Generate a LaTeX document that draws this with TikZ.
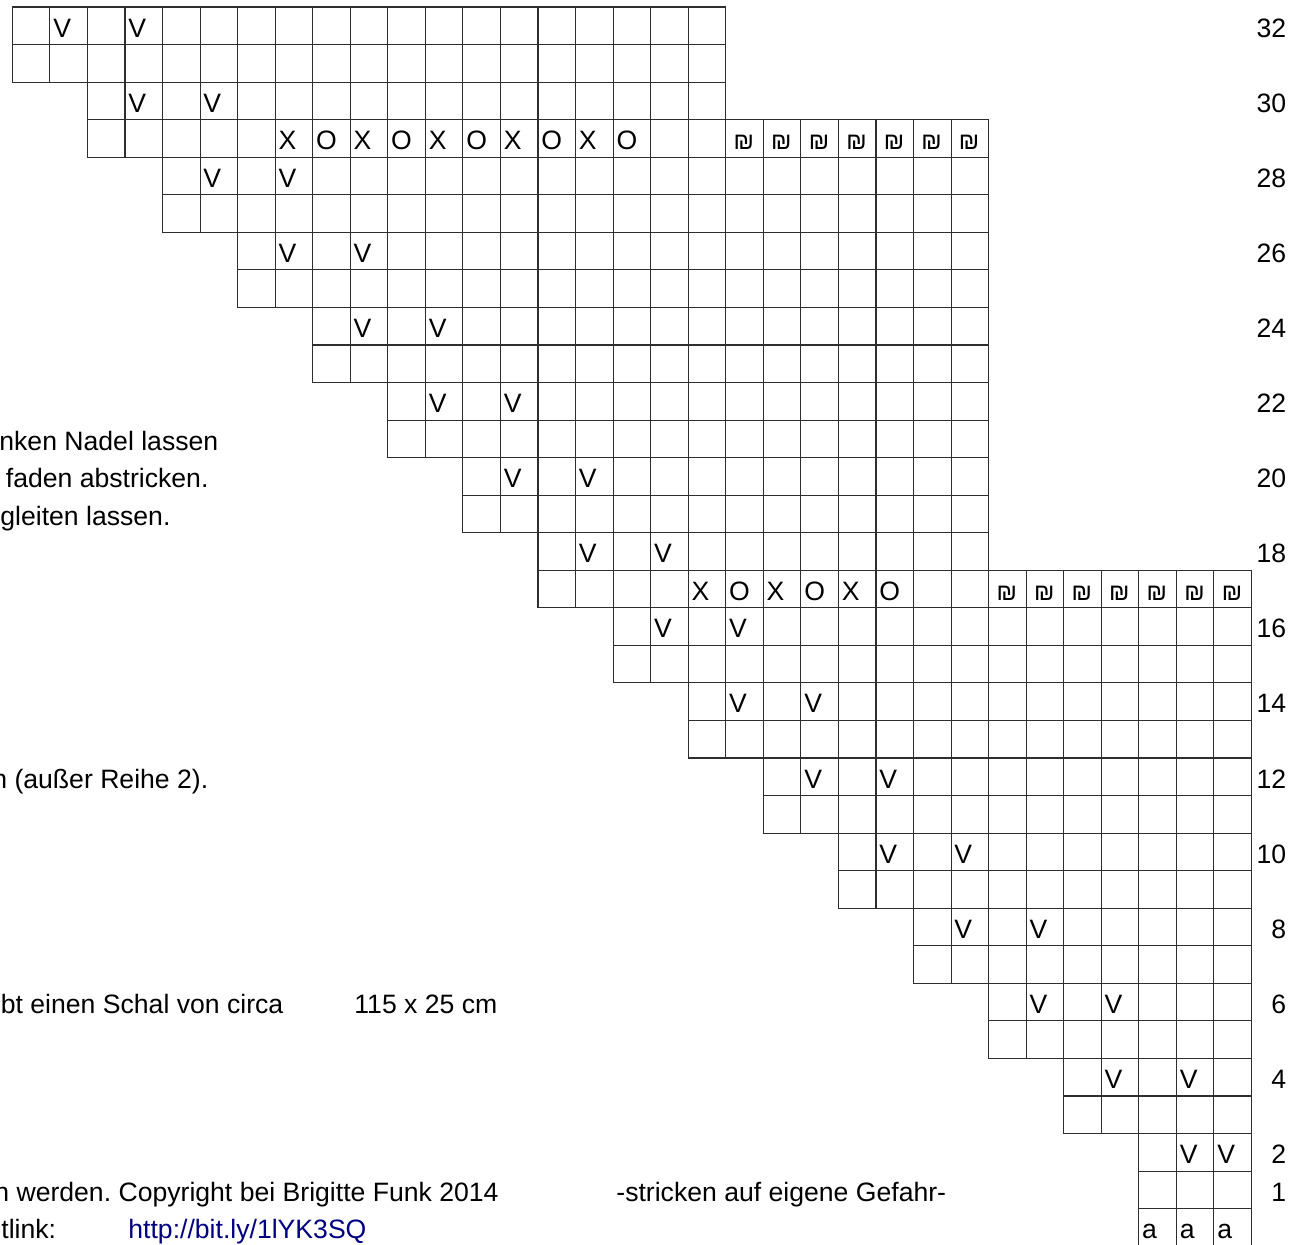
\documentclass[tikz,border=0pt]{standalone}
\usepackage{fontspec}
\setmainfont{Liberation Sans}
\usetikzlibrary{positioning,calc}
\definecolor{linkblue}{RGB}{0,0,128}
\frenchspacing

\tikzset{
  cell/.style={draw=black!82, line width=0.55pt},
  stitch/.style={anchor=base west, inner sep=0pt, font=\fontsize{13.3}{15}\selectfont},
  shekel/.style={anchor=base west, inner sep=0pt, font=\fontsize{12}{14}\selectfont},
  rowno/.style={anchor=base east, inner sep=0pt, font=\fontsize{13.3}{15}\selectfont},
  note/.style={anchor=base west, inner sep=0pt, font=\fontsize{13.3}{15}\selectfont},
}
% column c starts at 12.3 + c*37.55, row i (0 = row 32) starts at 7 + i*37.55
\newcommand{\colx}[1]{12.3+#1*37.55}
\newcommand{\rowy}[1]{7+#1*37.55}

\begin{document}
\begin{tikzpicture}[x=0.5pt,y=-0.5pt]
  \useasboundingbox (0,0) rectangle (1307,1244);

  % the stepped grid
  \foreach \i in {0,...,32} {
    \pgfmathtruncatemacro\s{\i<32 ? 2*int(\i/2) : 30}
    \pgfmathtruncatemacro\e{\i<3 ? 18 : (\i<15 ? 25 : 32)}
    \foreach \c in {\s,...,\e}
      \draw[cell] ({\colx{\c}},{\rowy{\i}}) rectangle ++(37.55,37.55);
  }

  % slipped stitches
  \foreach \r [evaluate=\r as \i using int(32-\r),
               evaluate=\r as \ca using int(33-\r),
               evaluate=\r as \cb using int(35-\r)] in {32,30,...,4} {
    \node[stitch] (v-\r-a) at ({\colx{\ca}+3},{\rowy{\i}+30}) {V};
    \node[stitch] (v-\r-b) at ({\colx{\cb}+3},{\rowy{\i}+30}) {V};
  }
  \node[stitch] (v-2-a) at ({\colx{31}+3},{\rowy{30}+30}) {V};
  \node[stitch] (v-2-b) at ({\colx{32}+3},{\rowy{30}+30}) {V};

  % row 29
  \foreach \c in {7,9,...,15}
    \node[stitch] (x-29-\c) at ({\colx{\c}+3},{\rowy{3}+30}) {X};
  \foreach \c in {8,10,...,16}
    \node[stitch] (o-29-\c) at ({\colx{\c}+3},{\rowy{3}+30}) {O};
  \foreach \c in {19,...,25}
    \node[shekel] (s-29-\c) at ({\colx{\c}+7.5},{\rowy{3}+30}) {₪};

  % row 17
  \foreach \c in {18,20,22}
    \node[stitch] (x-17-\c) at ({\colx{\c}+3},{\rowy{15}+30}) {X};
  \foreach \c in {19,21,23}
    \node[stitch] (o-17-\c) at ({\colx{\c}+3},{\rowy{15}+30}) {O};
  \foreach \c in {26,...,32}
    \node[shekel] (s-17-\c) at ({\colx{\c}+7.5},{\rowy{15}+30}) {₪};

  % bottom row
  \foreach \c in {30,31,32}
    \node[stitch] (a-\c) at ({\colx{\c}+3},{\rowy{32}+30}) {a};

  % row numbers
  \foreach \r [evaluate=\r as \i using int(32-\r)] in {32,30,...,2,1}
    \node[rowno] (nr-\r) at (1286.5,{\rowy{\i}+30}) {\r};

  % notes on the left
  \node[note] (n-nadel) at (-1,{\rowy{11}+30}) {nken Nadel lassen};
  \node[note] (n-faden) at (5.5,{\rowy{12}+30}) {faden abstricken.};
  \node[note] (n-gleit) at (0,{\rowy{13}+30}) {gleiten lassen.};
  \node[note] (n-reihe) at (-8,{\rowy{20}+30}) {n (außer Reihe 2).};
  \node[note] (n-schal) at (0.5,{\rowy{26}+30}) {bt einen Schal von circa};
  \node[note] (n-mass) at (354,{\rowy{26}+30}) {115 x 25 cm};
  \node[note] (n-copy) at (-6,{\rowy{31}+30}) {n werden. Copyright bei Brigitte Funk 2014};
  \node[note] (n-risk) at (616,{\rowy{31}+30}) {-stricken auf eigene Gefahr-};
  \node[note] (n-link) at (1,{\rowy{32}+30}) {tlink:};
  \node[note, text=linkblue] (n-url) at (128,{\rowy{32}+30}) {http://bit.ly/1lYK3SQ};
\end{tikzpicture}
\end{document}
